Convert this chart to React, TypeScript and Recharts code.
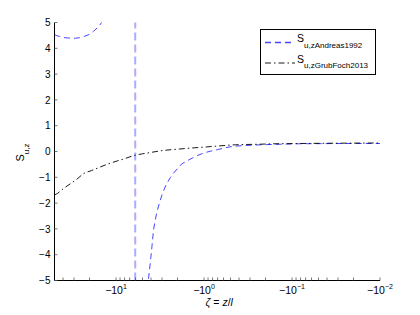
import React from "react";
import { LineChart, Line, XAxis, YAxis, Legend, ReferenceLine } from "recharts";

// ---- data ----
const X_MAJOR = [10, 1, 0.1, 0.01];
const X_MAJOR_EXP = ["1", "0", "\u22121", "\u22122"];
const X_MINOR = [
  40, 30, 20,
  9, 8, 7, 6, 5, 4, 3, 2,
  0.9, 0.8, 0.7, 0.6, 0.5, 0.4, 0.3, 0.2,
  0.09, 0.08, 0.07, 0.06, 0.05, 0.04, 0.03, 0.02,
];
const Y_TICKS = [-5, -4, -3, -2, -1, 0, 1, 2, 3, 4, 5];

const SERIES_NAMES = ["S_u,zAndreas1992", "S_u,zGrubFoch2013"];

// |zeta| values (plotted as -|zeta| on a reversed log axis)
// Andreas1992 has a pole near |zeta| = 6.05 (null marks the break)
const ANDREAS_POLE = 6.05;
const andreasZeta = [
  50, 47, 44, 41, 38, 35, 32, 29, 26, 23, 20, 18, 16, 15, 14, 12, 10, 8, 7, 6.5, 6.08,
  6.05,
  6.02, 5.8, 5.4, 5.0, 4.6, 4.4, 4.27, 4.09, 3.91, 3.75, 3.6, 3.43, 3.2, 3.01, 2.8, 2.64,
  2.4, 2.22, 2.0, 1.79, 1.55, 1.37, 1.2, 1.01, 0.85, 0.71, 0.58, 0.47, 0.35, 0.23, 0.14,
  0.081, 0.026, 0.01,
];
const andreasS: (number | null)[] = [
  4.53, 4.49, 4.46, 4.43, 4.41, 4.4, 4.39, 4.39, 4.41, 4.46, 4.54, 4.66, 4.82, 4.94, 5.1, 5.5, 6.3, 7.0, 7.5, 7.8, 8.0,
  null,
  -8.0, -7.5, -7.0, -6.5, -5.9, -5.4, -4.93, -4.35, -3.7, -3.05, -2.7, -2.34, -1.98, -1.69, -1.42, -1.23,
  -1.0, -0.84, -0.66, -0.48, -0.36, -0.26, -0.16, -0.06, 0.01, 0.07, 0.14, 0.2, 0.23, 0.26, 0.28,
  0.3, 0.31, 0.31,
];

const grubZeta = [
  50, 46, 40, 33, 28, 23.4, 19, 15.1, 11.6, 9.77, 8, 6.32, 5, 4.09, 2.89, 2,
  1.44, 1, 0.71, 0.44, 0.25, 0.148, 0.08, 0.037, 0.01,
];
const grubS = [
  -1.68, -1.62, -1.45, -1.25, -1.08, -0.86, -0.74, -0.6, -0.45, -0.37, -0.28, -0.16, -0.09, -0.04, 0.04, 0.09,
  0.13, 0.17, 0.21, 0.26, 0.28, 0.3, 0.31, 0.32, 0.33,
];

const andreasData = andreasZeta.map((x, i) => ({ x, y: andreasS[i] }));
const grubData = grubZeta.map((x, i) => ({ x, y: grubS[i] }));

const X_TICKS = [...X_MAJOR, ...X_MINOR];

const FONT = "'Liberation Sans', Arial, Helvetica, sans-serif";
const TICK_LEN = 3;
const TICK_COLOR = "#555";

const BLUE = "#4646ff";
const BLUE_DASH = "6 4";
const BLACK_DASH = "6 3 1.5 3";
const SERIES_STYLE = [
  { color: BLUE, dash: BLUE_DASH },
  { color: "#000", dash: BLACK_DASH },
];

// ---- ticks ----
const BottomTick = (props: any) => {
  const { x, y, payload } = props;
  const idx = X_MAJOR.indexOf(payload.value);
  return (
    <g>
      <line x1={x} x2={x} y1={y} y2={y - TICK_LEN} stroke={TICK_COLOR} strokeWidth={0.8} />
      {idx >= 0 && (
        <text x={x} y={y + 13.5} textAnchor="middle" fontSize={10.5} fontFamily={FONT} fill="#000">
          <tspan>{"\u221210"}</tspan>
          <tspan fontSize={7} dy={-5}>{X_MAJOR_EXP[idx]}</tspan>
        </text>
      )}
    </g>
  );
};

const TopTick = (props: any) => {
  const { x, y } = props;
  return <line x1={x} x2={x} y1={y} y2={y + TICK_LEN} stroke={TICK_COLOR} strokeWidth={0.8} />;
};

const LeftTick = (props: any) => {
  const { x, y, payload } = props;
  const v = payload.value;
  const label = v < 0 ? "\u2212" + Math.abs(v) : String(v);
  return (
    <g>
      <line x1={x} x2={x + TICK_LEN} y1={y} y2={y} stroke={TICK_COLOR} strokeWidth={0.8} />
      <text x={x - 4} y={y} dy="0.36em" textAnchor="end" fontSize={10} fontFamily={FONT} fill="#000">
        {label}
      </text>
    </g>
  );
};

const RightTick = (props: any) => {
  const { x, y } = props;
  return <line x1={x} x2={x - TICK_LEN} y1={y} y2={y} stroke={TICK_COLOR} strokeWidth={0.8} />;
};

// ---- labels ----
const YLabel = (props: any) => {
  const vb = props.viewBox || { x: 14.5, y: 22.5, width: 40, height: 258 };
  const cx = vb.x + 9;
  const cy = vb.y + vb.height / 2 + 1;
  return (
    <text
      x={cx}
      y={cy}
      transform={`rotate(-90, ${cx}, ${cy})`}
      textAnchor="middle"
      fontFamily={FONT}
      fill="#000"
    >
      <tspan fontSize={11}>S</tspan>
      <tspan fontSize={8} dy={5}>u,z</tspan>
    </text>
  );
};

const XLabel = (props: any) => {
  const vb = props.viewBox || { x: 54.5, y: 280.5, width: 325.5, height: 34.5 };
  const cx = vb.x + vb.width / 2 + 2;
  const cy = vb.y + 25.5;
  return (
    <text x={cx} y={cy} textAnchor="middle" fontSize={10.5} fontFamily={FONT} fill="#000">
      <tspan fontStyle="italic">{"\u03B6"}</tspan>
      <tspan>{" = "}</tspan>
      <tspan fontStyle="italic">z</tspan>
      <tspan>/</tspan>
      <tspan fontStyle="italic">l</tspan>
    </text>
  );
};

// ---- legend ----
const LegendContent = () => {
  const rows = [13.5, 34];
  return (
    <svg width={116} height={46} style={{ display: "block" }}>
      <rect x={0.5} y={0.5} width={115} height={45} fill="#fff" stroke="#000" strokeWidth={1} />
      {SERIES_NAMES.map((name, i) => {
        const [main, sub] = name.split("_");
        const ly = rows[i];
        return (
          <g key={name}>
            <line
              x1={5}
              x2={35}
              y1={ly}
              y2={ly}
              stroke={SERIES_STYLE[i].color}
              strokeDasharray={SERIES_STYLE[i].dash}
              strokeWidth={i === 0 ? 1.3 : 0.9}
            />
            <text x={37} y={ly - 0.5} fontSize={10.5} fontFamily={FONT} fill="#000">
              {main}
            </text>
            <text x={44} y={ly + 5} fontSize={8} fontFamily={FONT} fill="#000">
              {sub}
            </text>
          </g>
        );
      })}
    </svg>
  );
};

export default function App() {
  return (
    <div style={{ position: "absolute", left: 0, top: 0, background: "#fff" }}>
      <LineChart
        width={420}
        height={315}
        margin={{ top: 22.5, right: 40, bottom: 0, left: 14.5 }}
        style={{ fontFamily: FONT }}
      >
        <XAxis
          xAxisId="b"
          type="number"
          dataKey="x"
          scale="log"
          domain={[0.01, 50]}
          reversed
          allowDataOverflow
          ticks={X_TICKS}
          interval={0}
          tickLine={false}
          tickSize={0}
          tickMargin={0}
          height={34.5}
          axisLine={{ stroke: "#000", strokeWidth: 1 }}
          tick={<BottomTick />}
          label={(p: any) => <XLabel {...p} />}
        />
        <XAxis
          xAxisId="t"
          orientation="top"
          type="number"
          dataKey="x"
          scale="log"
          domain={[0.01, 50]}
          reversed
          allowDataOverflow
          ticks={X_TICKS}
          interval={0}
          tickLine={false}
          tickSize={0}
          tickMargin={0}
          height={0}
          axisLine={{ stroke: "#000", strokeWidth: 1 }}
          tick={<TopTick />}
        />
        <YAxis
          yAxisId="l"
          type="number"
          domain={[-5, 5]}
          allowDataOverflow
          ticks={Y_TICKS}
          interval={0}
          tickLine={false}
          tickSize={0}
          tickMargin={0}
          width={40}
          axisLine={{ stroke: "#000", strokeWidth: 1 }}
          tick={<LeftTick />}
          label={(p: any) => <YLabel {...p} />}
        />
        <YAxis
          yAxisId="r"
          orientation="right"
          type="number"
          domain={[-5, 5]}
          allowDataOverflow
          ticks={Y_TICKS}
          interval={0}
          tickLine={false}
          tickSize={0}
          tickMargin={0}
          width={0}
          axisLine={{ stroke: "#999", strokeWidth: 2 }}
          tick={<RightTick />}
        />
        <ReferenceLine
          xAxisId="b"
          yAxisId="l"
          x={ANDREAS_POLE}
          stroke={BLUE}
          strokeOpacity={0.45}
          strokeWidth={2}
          strokeDasharray="8 4"
        />
        <Line
          xAxisId="b"
          yAxisId="l"
          data={andreasData}
          dataKey="y"
          name={SERIES_NAMES[0]}
          type="linear"
          stroke={BLUE}
          strokeWidth={1}
          strokeDasharray={BLUE_DASH}
          dot={false}
          activeDot={false}
          connectNulls={false}
          isAnimationActive={false}
        />
        <Line
          xAxisId="b"
          yAxisId="l"
          data={grubData}
          dataKey="y"
          name={SERIES_NAMES[1]}
          type="monotone"
          stroke="#000"
          strokeWidth={0.9}
          strokeDasharray={BLACK_DASH}
          dot={false}
          activeDot={false}
          isAnimationActive={false}
        />
        <Legend
          layout="horizontal"
          verticalAlign="middle"
          align="center"
          width={116}
          height={46}
          wrapperStyle={{ left: 260, top: 28.5, width: 116, height: 46 }}
          content={() => <LegendContent />}
        />
      </LineChart>
    </div>
  );
}
